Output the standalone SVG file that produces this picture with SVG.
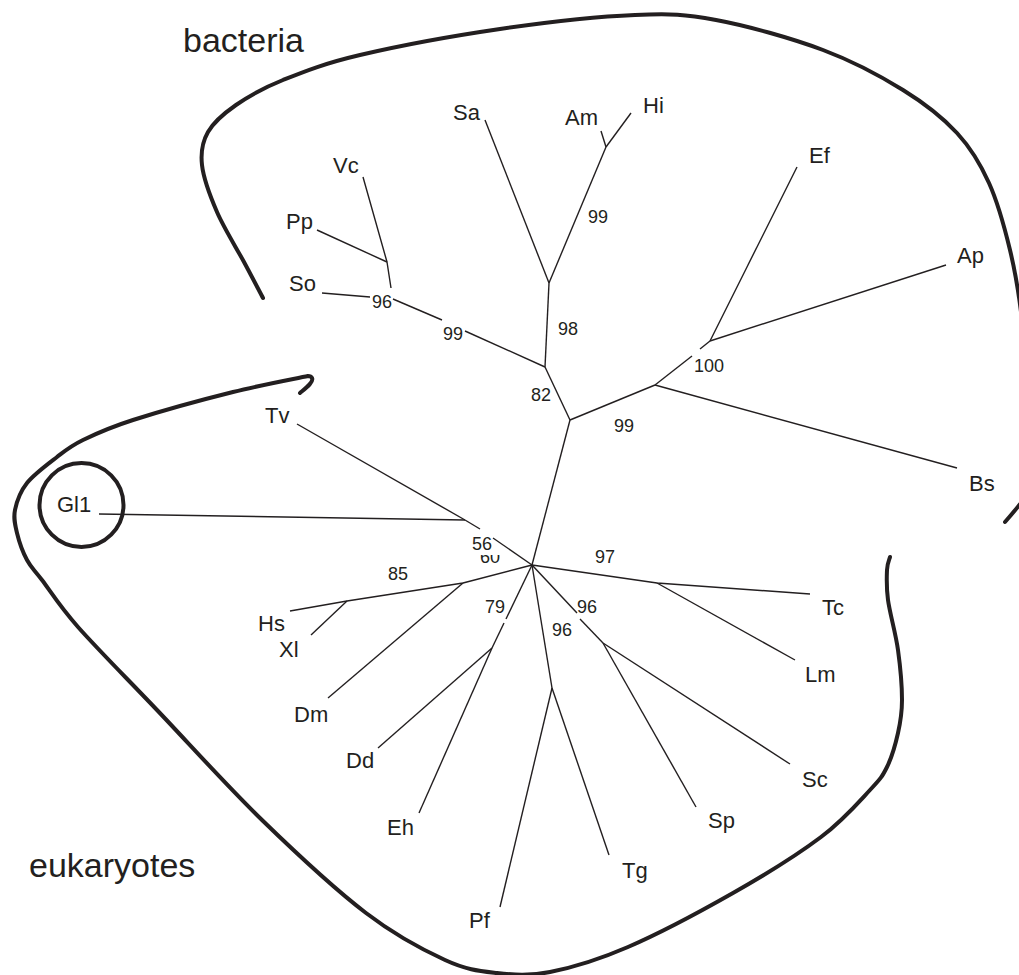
<svg xmlns="http://www.w3.org/2000/svg" width="1019" height="975" viewBox="0 0 1019 975">
<style>
.br{stroke:#231f20;stroke-width:1.4;fill:none;stroke-linejoin:round}
.bd{stroke:#231f20;stroke-width:4;fill:none;stroke-linecap:round;stroke-linejoin:round}
text{font-family:"Liberation Sans",Arial,sans-serif;fill:#231f20}
.lf{font-size:22px}
.bs{font-size:18px;text-anchor:middle}
.big{font-size:34px}
</style>
<defs>
<clipPath id="clip60"><rect x="470" y="555" width="40" height="20"/></clipPath>
</defs>
<rect width="1019" height="975" fill="#fff"/>

<g id="boundaries">
<path id="bacteria-boundary" class="bd" d="M263,298 C259.8,292 251.7,276.3 244,262 C236.3,247.7 224,228.2 217,212 C210,195.8 203.5,178.3 202,165 C200.5,151.7 202.3,142 208,132 C213.7,122 223.5,113.7 236,105 C248.5,96.3 262.3,88.3 283,80 C303.7,71.7 323.8,63.5 360,55 C396.2,46.5 454.2,35.7 500,29 C545.8,22.3 599,16.5 635,15 C671,13.5 684.7,14.2 716,20 C747.3,25.8 791.8,38.3 823,50 C854.2,61.7 880.7,76.2 903,90 C925.3,103.8 942.7,117.5 957,133 C971.3,148.5 980.2,163.5 989,183 C997.8,202.5 1004.5,227.2 1010,250 C1015.5,272.8 1018.7,291.7 1022,320 C1026,355 1050,400 1050,440 C1050,470 1020,505 1005,522"/>
<path id="eukaryote-boundary" class="bd" d="M300,393 C306,388 314,382 312,378 C311,376 309,376 308,376 C295.5,378.7 262.2,384.7 233,392 C203.8,399.3 158,412 133,420 C108,428 95.7,433.8 83,440 C70.3,446.2 66.3,449.8 57,457 C47.7,464.2 34,474.2 27,483 C20,491.8 16.7,501.7 15,510 C13.3,518.3 15,524.7 17,533 C19,541.3 22.8,552.2 27,560 C31.2,567.8 33.5,568.8 42,580 C50.5,591.2 58.8,605.3 78,627 C97.2,648.7 126.3,677.8 157,710 C187.7,742.2 227.2,786.2 262,820 C296.8,853.8 335.5,889.7 366,913 C396.5,936.3 423.2,950 445,960 C466.8,970 479.5,971 497,973 C514.5,975 528.2,976.3 550,972 C571.8,967.7 597.5,960.2 628,947 C658.5,933.8 700.8,911.3 733,893 C765.2,874.7 798.2,854.2 821,837 C843.8,819.8 859,801.7 870,790 C881,778.3 882.3,776.5 887,767 C891.7,757.5 895.5,744.2 898,733 C900.5,721.8 902,713.8 902,700 C902,686.2 900.3,666.7 898,650 C895.7,633.3 889.8,613.3 888,600 C886.2,586.7 886.7,577.2 887,570 C887.3,562.8 889.5,559.2 890,557"/>
<circle id="gl1-circle" class="bd" cx="81.5" cy="505" r="42"/>
</g>

<g id="connectors">
<line class="br" x1="532" y1="565" x2="570" y2="420"/>
<line class="br" x1="570" y1="420" x2="545" y2="367"/>
<line class="br" x1="545" y1="367" x2="549" y2="283"/>
<line class="br" x1="549" y1="283" x2="485" y2="120"/>
<line class="br" x1="549" y1="283" x2="606" y2="147"/>
<line class="br" x1="606" y1="147" x2="601" y2="131"/>
<line class="br" x1="606" y1="147" x2="631" y2="113"/>
<line class="br" x1="545" y1="367" x2="465" y2="331"/>
<line class="br" x1="442" y1="320" x2="393" y2="299"/>
<line class="br" x1="322" y1="293" x2="370" y2="297"/>
<polyline class="br" points="363,177 387,262 391,288"/>
<line class="br" x1="317" y1="230" x2="387" y2="262"/>
<line class="br" x1="570" y1="420" x2="655" y2="385"/>
<line class="br" x1="655" y1="385" x2="957" y2="468"/>
<line class="br" x1="655" y1="385" x2="692" y2="356"/>
<line class="br" x1="700" y1="349" x2="710" y2="341"/>
<line class="br" x1="710" y1="341" x2="797" y2="167"/>
<line class="br" x1="710" y1="341" x2="946" y2="265"/>
<line class="br" x1="532" y1="565" x2="493" y2="538"/>
<line class="br" x1="480" y1="529" x2="465" y2="520"/>
<line class="br" x1="465" y1="520" x2="297" y2="424"/>
<line class="br" x1="465" y1="520" x2="99" y2="514"/>
<polyline class="br" points="532,565 463,583 347,601 290,611"/>
<line class="br" x1="347" y1="601" x2="311" y2="635"/>
<line class="br" x1="463" y1="583" x2="328" y2="698"/>
<line class="br" x1="532" y1="565" x2="506" y2="619"/>
<line class="br" x1="504" y1="623" x2="492" y2="648"/>
<line class="br" x1="492" y1="648" x2="419" y2="813"/>
<line class="br" x1="492" y1="648" x2="378" y2="748"/>
<line class="br" x1="532" y1="565" x2="552" y2="688"/>
<line class="br" x1="552" y1="688" x2="500" y2="907"/>
<line class="br" x1="552" y1="688" x2="609" y2="855"/>
<line class="br" x1="532" y1="565" x2="577" y2="613"/>
<line class="br" x1="580" y1="619" x2="603" y2="643"/>
<line class="br" x1="603" y1="643" x2="790" y2="764"/>
<line class="br" x1="603" y1="643" x2="696" y2="807"/>
<polyline class="br" points="532,565 657,583 810,594"/>
<line class="br" x1="657" y1="583" x2="795" y2="660"/>
</g>

<g id="group-labels">
<text class="big" x="183" y="52">bacteria</text>
<text class="big" x="29" y="877">eukaryotes</text>
</g>

<g id="leaves">
<g id="Sa"><text class="lf" x="453" y="120">Sa</text></g>
<g id="Am"><text class="lf" x="565" y="125">Am</text></g>
<g id="Hi"><text class="lf" x="643" y="113">Hi</text></g>
<g id="Ef"><text class="lf" x="809" y="163">Ef</text></g>
<g id="Ap"><text class="lf" x="957" y="263">Ap</text></g>
<g id="Vc"><text class="lf" x="333" y="173">Vc</text></g>
<g id="Pp"><text class="lf" x="286" y="229">Pp</text></g>
<g id="So"><text class="lf" x="289" y="291">So</text></g>
<g id="Tv"><text class="lf" x="265" y="423">Tv</text></g>
<g id="Gl1"><text class="lf" x="57" y="512">Gl1</text></g>
<g id="Bs"><text class="lf" x="969" y="491">Bs</text></g>
<g id="Tc"><text class="lf" x="822" y="615">Tc</text></g>
<g id="Lm"><text class="lf" x="805" y="682">Lm</text></g>
<g id="Sc"><text class="lf" x="802" y="787">Sc</text></g>
<g id="Sp"><text class="lf" x="708" y="828">Sp</text></g>
<g id="Tg"><text class="lf" x="622" y="878">Tg</text></g>
<g id="Pf"><text class="lf" x="469" y="928">Pf</text></g>
<g id="Eh"><text class="lf" x="387" y="835">Eh</text></g>
<g id="Dd"><text class="lf" x="346" y="768">Dd</text></g>
<g id="Dm"><text class="lf" x="294" y="722">Dm</text></g>
<g id="Hs"><text class="lf" x="258" y="631">Hs</text></g>
<g id="Xl"><text class="lf" x="279" y="657">Xl</text></g>
</g>

<g id="support-values">
<g id="bv-96a"><text class="bs" x="382" y="308">96</text></g>
<g id="bv-99a"><text class="bs" x="453" y="340">99</text></g>
<g id="bv-98"><text class="bs" x="568" y="335">98</text></g>
<g id="bv-82"><text class="bs" x="541" y="401">82</text></g>
<g id="bv-99b"><text class="bs" x="598" y="223">99</text></g>
<g id="bv-99c"><text class="bs" x="624" y="432">99</text></g>
<g id="bv-100"><text class="bs" x="709" y="372">100</text></g>
<g id="bv-60"><text class="bs" x="490" y="563" clip-path="url(#clip60)">60</text></g>
<g id="bv-56"><text class="bs" x="482" y="550">56</text></g>
<g id="bv-85"><text class="bs" x="398" y="580">85</text></g>
<g id="bv-97"><text class="bs" x="605" y="563">97</text></g>
<g id="bv-79"><text class="bs" x="495" y="613">79</text></g>
<g id="bv-96b"><text class="bs" x="587" y="613">96</text></g>
<g id="bv-96c"><text class="bs" x="562" y="636">96</text></g>
</g>
</svg>
